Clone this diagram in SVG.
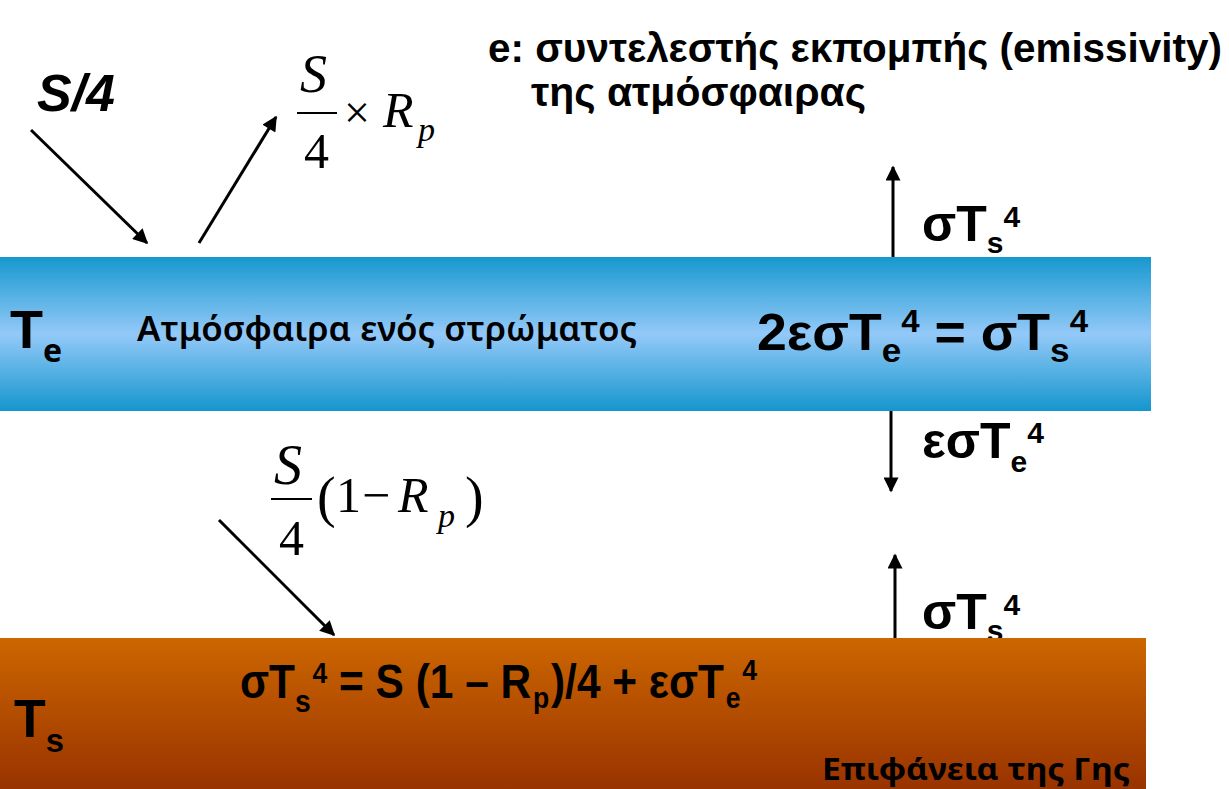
<svg xmlns="http://www.w3.org/2000/svg" width="1229" height="789" viewBox="0 0 1229 789">
<defs>
<linearGradient id="blue" x1="0" y1="0" x2="0" y2="1">
<stop offset="0" stop-color="#1798cf"/>
<stop offset="0.5" stop-color="#93c9f8"/>
<stop offset="1" stop-color="#1496cd"/>
</linearGradient>
<linearGradient id="brown" x1="0" y1="0" x2="0" y2="1">
<stop offset="0" stop-color="#cc6600"/>
<stop offset="1" stop-color="#993300"/>
</linearGradient>
<marker id="ah" viewBox="0 0 10 10" refX="9" refY="5" markerWidth="5.5" markerHeight="5" orient="auto" markerUnits="strokeWidth">
<path d="M0,0 L10,5 L0,10 Z" fill="#000"/>
</marker>
<style>
.b{font-family:"Liberation Sans",Arial,sans-serif;font-weight:bold;fill:#000}
.m{font-family:"Liberation Serif","Times New Roman",serif;fill:#000}
.c{font-family:"Noto Sans","Open Sans",sans-serif;fill:#000}
.ar{stroke:#000;stroke-width:3;fill:none;marker-end:url(#ah)}
</style>
</defs>
<rect width="1229" height="789" fill="#fff"/>

<g id="label-flux-top">
<text class="b" x="922" y="241" font-size="50">σT<tspan font-size="30" dy="12">s</tspan><tspan font-size="30" dy="-26">4</tspan></text>
</g>
<g id="label-flux-surface">
<text class="b" x="922" y="629" font-size="50">σT<tspan font-size="30" dy="12">s</tspan><tspan font-size="30" dy="-26">4</tspan></text>
</g>

<g id="atmosphere">
<rect x="0" y="257" width="1151" height="154" fill="url(#blue)"/>
<text class="b" x="10" y="348" font-size="54">T<tspan font-size="32" dy="14" class="c">e</tspan></text>
<text class="c" x="137" y="341" font-size="34" font-weight="600" textLength="500" lengthAdjust="spacingAndGlyphs">Ατμόσφαιρα ενός στρώματος</text>
<text class="b" x="757" y="350" font-size="52" textLength="331" lengthAdjust="spacingAndGlyphs">2εσT<tspan font-size="34" dy="12">e</tspan><tspan font-size="32" dy="-30">4</tspan><tspan font-size="52" dy="18"> = σT</tspan><tspan font-size="34" dy="12">s</tspan><tspan font-size="32" dy="-30">4</tspan></text>
</g>

<g id="surface">
<rect x="0" y="638" width="1146" height="151" fill="url(#brown)"/>
<text class="b" x="14" y="737" font-size="54" textLength="50" lengthAdjust="spacingAndGlyphs">T<tspan font-size="34" dy="15">s</tspan></text>
<text class="b" x="240" y="698" font-size="48" textLength="517" lengthAdjust="spacingAndGlyphs">σT<tspan font-size="32" dy="14">s</tspan><tspan font-size="30" dy="-29" dx="2">4</tspan><tspan font-size="48" dy="15"> = S (1 – R</tspan><tspan font-size="30" dy="10" dx="2">p</tspan><tspan font-size="48" dy="-10" dx="2">)/4 + εσT</tspan><tspan font-size="30" dy="10" dx="2">e</tspan><tspan font-size="30" dy="-28" dx="2">4</tspan></text>
<text class="c" x="822" y="780" font-size="31" font-weight="bold" textLength="308" lengthAdjust="spacingAndGlyphs">Επιφάνεια της Γης</text>
</g>

<g id="labels">
<text class="b" x="37" y="111" font-size="52" font-style="italic" textLength="78" lengthAdjust="spacingAndGlyphs">S/4</text>
<text class="b" x="488" y="62" font-size="40" textLength="734" lengthAdjust="spacingAndGlyphs">e: συντελεστής εκπομπής (emissivity)</text>
<text class="b" x="531" y="106" font-size="40" textLength="335" lengthAdjust="spacingAndGlyphs">της ατμόσφαιρας</text>
<g id="frac-reflect">
<text class="m" x="300" y="92" font-size="54" font-style="italic">S</text>
<line x1="297" y1="113" x2="337" y2="113" stroke="#000" stroke-width="2"/>
<text class="m" x="304" y="168" font-size="50">4</text>
<text class="m" x="344" y="128" font-size="46">×</text>
<text class="m" x="383" y="127" font-size="50" font-style="italic">R</text>
<text class="m" x="418" y="141" font-size="34" font-style="italic">p</text>
</g>
<text class="b" x="922" y="458" font-size="50">εσT<tspan font-size="30" dy="14">e</tspan><tspan font-size="30" dy="-29">4</tspan></text>
<g id="frac-absorb">
<text class="m" x="274" y="484" font-size="56" font-style="italic">S</text>
<line x1="271" y1="499" x2="312" y2="499" stroke="#000" stroke-width="2"/>
<text class="m" x="279" y="555" font-size="50">4</text>
<text class="m" x="317" y="516" font-size="56">(</text>
<text class="m" x="336" y="512" font-size="50">1</text>
<text class="m" x="362" y="512" font-size="50">−</text>
<text class="m" x="398" y="512" font-size="50" font-style="italic">R</text>
<text class="m" x="438" y="527" font-size="34" font-style="italic">p</text>
<text class="m" x="465" y="516" font-size="56">)</text>
</g>
</g>

<g id="connectors">
<line class="ar" x1="31" y1="130" x2="147" y2="243"/>
<line class="ar" x1="199" y1="243" x2="276" y2="117"/>
<line class="ar" x1="893" y1="257" x2="893" y2="167"/>
<line class="ar" x1="891" y1="411" x2="891" y2="491"/>
<line class="ar" x1="219" y1="520" x2="334" y2="635"/>
<line class="ar" x1="895" y1="638" x2="895" y2="555"/>
</g>
</svg>
